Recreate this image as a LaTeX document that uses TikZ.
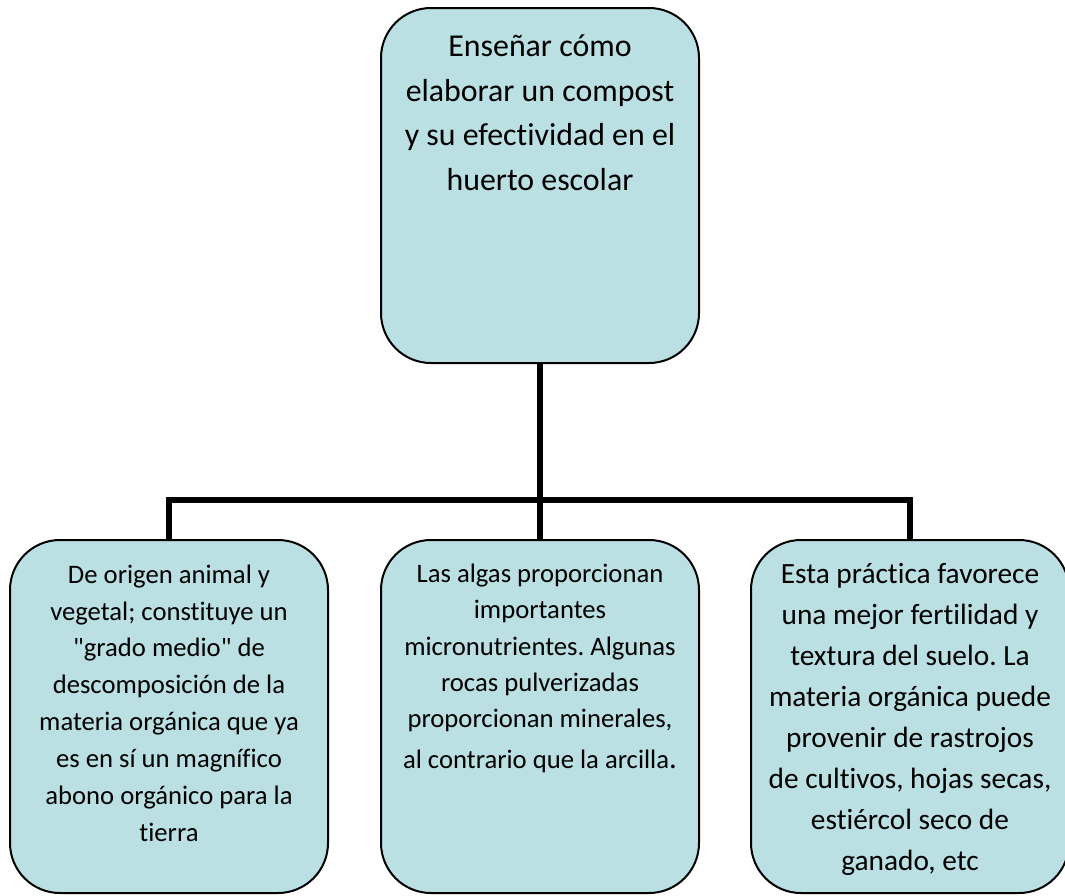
\documentclass[tikz,border=0pt]{standalone}
\usepackage{fontspec}
\setmainfont{Carlito}[Ligatures={TeXOff,CommonOff}]
\usetikzlibrary{positioning}
\definecolor{cajafondo}{HTML}{BBE0E3}
\frenchspacing
\tikzset{
  caja/.style={draw=black, line width=1.5pt, fill=cajafondo, rounded corners=37.5pt,
    minimum width=238.5pt, inner sep=0pt},
  texto/.style={align=center, inner sep=0pt, text=black},
  rama/.style={line width=4.4pt}
}
\begin{document}
\begin{tikzpicture}[x=0.75pt, y=-0.75pt]
\useasboundingbox (0,0) rectangle (1065,896);
% cajas
\node[caja, minimum height=266.25pt] (raiz) at (540,185.5) {};
\node[caja, minimum height=264.75pt] (izq) at (169,716.5) {};
\node[caja, minimum height=264.75pt] (centro) at (540,716.5) {};
\node[caja, minimum height=264.75pt] (der) at (910,716.5) {};
% textos
\node[texto, below=20.5pt of raiz.north, font=\fontsize{23.9}{33.5}\selectfont] (raiz-txt)
  {Enseñar cómo\\elaborar un compost\\y su efectividad en el\\huerto escolar};
\node[texto, below=19pt of izq.north, font=\fontsize{20}{27.7}\selectfont] (izq-txt)
  {De origen animal y\\vegetal; constituye un\\"grado medio" de\\descomposición de la\\materia orgánica que ya\\es en sí un magnífico\\abono orgánico para la\\tierra};
\node[texto, below=18.4pt of centro.north, font=\fontsize{20}{27.3}\selectfont] (centro-txt)
  {Las algas proporcionan\\importantes\\micronutrientes. Algunas\\rocas pulverizadas\\proporcionan minerales,\\[3pt]al contrario que la arcilla{\fontsize{23}{27.3}\selectfont.}};
\node[texto, below=17.75pt of der.north, font=\fontsize{22}{30.8}\selectfont] (der-txt)
  {Esta práctica favorece\\una mejor fertilidad y\\textura del suelo. La\\materia orgánica puede\\provenir de rastrojos\\de cultivos, hojas secas,\\estiércol seco de\\ganado, etc};
% conectores
\coordinate (union) at (540,500);
\draw[rama] (raiz.south) -- (centro.north);
\draw[rama] (izq.north) |- (union) -| (der.north);
\end{tikzpicture}
\end{document}
